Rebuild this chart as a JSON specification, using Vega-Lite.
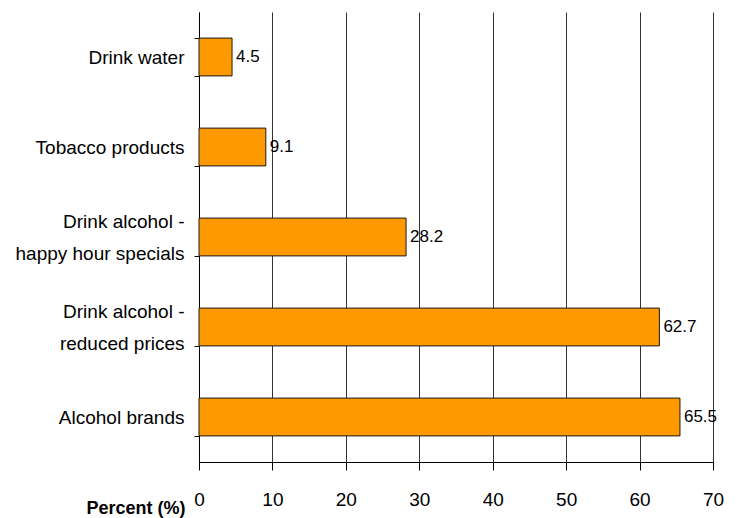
{
  "$schema": "https://vega.github.io/schema/vega-lite/v6.json",
  "width": 514,
  "height": 450,
  "autosize": "none",
  "padding": {"left": 199, "top": 12, "right": 26, "bottom": 56},
  "background": "white",
  "config": {
    "view": {"stroke": null},
    "font": "Liberation Sans, Arial, sans-serif"
  },
  "data": {
    "values": [
      {"category": "Drink water", "percent": 4.5},
      {"category": "Tobacco products", "percent": 9.1},
      {"category": "Drink alcohol - happy hour specials", "percent": 28.2},
      {"category": "Drink alcohol - reduced prices", "percent": 62.7},
      {"category": "Alcohol brands", "percent": 65.5}
    ]
  },
  "encoding": {
    "y": {
      "field": "category",
      "type": "nominal",
      "sort": null,
      "scale": {"paddingInner": 0.58, "paddingOuter": 0.29},
      "axis": {
        "title": null,
        "domainColor": "black",
        "tickColor": "black",
        "tickSize": 5,
        "tickBand": "extent",
        "labelFontSize": 19,
        "labelColor": "black",
        "labelLineHeight": 16,
        "labelLimit": 300,
        "labelPadding": 10,
        "labelOffset": -16,
        "labelExpr": "indexof(datum.label, ' - ') > 0 ? [slice(datum.label, 0, indexof(datum.label, ' - ') + 2), '\u200b', slice(datum.label, indexof(datum.label, ' - ') + 3)] : ['', datum.label]",
        "grid": false
      }
    },
    "x": {
      "field": "percent",
      "type": "quantitative",
      "scale": {"domain": [0, 70], "nice": false},
      "axis": {
        "values": [0, 10, 20, 30, 40, 50, 60, 70],
        "title": "Percent (%)",
        "titleFontSize": 18,
        "titleFontWeight": "bold",
        "titleColor": "black",
        "titleAlign": "right",
        "titleAnchor": "start",
        "titleX": -14,
        "titleY": 51,
        "titleBaseline": "alphabetic",
        "domainColor": "black",
        "tickColor": "black",
        "tickSize": 8,
        "labelFontSize": 19,
        "labelColor": "black",
        "labelPadding": 20,
        "labelFlush": false,
        "grid": true,
        "gridColor": "#333333",
        "gridWidth": 1,
        "gridOpacity": 1
      }
    }
  },
  "layer": [
    {
      "mark": {"type": "bar", "color": "#FF9900", "stroke": "#1a1a1a", "strokeWidth": 1}
    },
    {
      "mark": {"type": "text", "align": "left", "baseline": "middle", "dx": 4, "fontSize": 17, "color": "black"},
      "encoding": {"text": {"field": "percent", "type": "quantitative", "format": ".1f"}}
    }
  ]
}
